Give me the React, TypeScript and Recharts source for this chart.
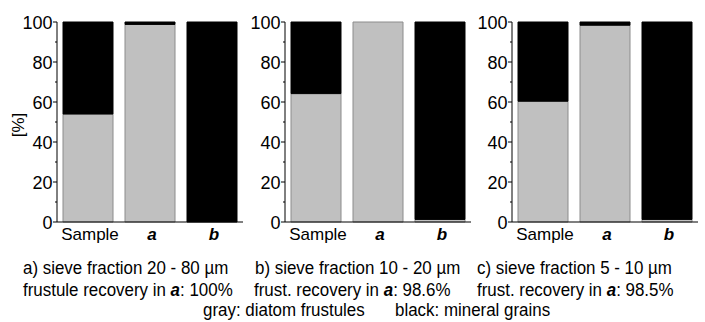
import React from 'react';
import { BarChart, Bar, XAxis, YAxis } from 'recharts';

const categories = ['Sample', 'a', 'b'];

// percent of particles per fraction (gray: diatom frustules, black: mineral grains)
const grayA = [54, 98.8, 0];
const blackA = [46, 1.2, 100];
const grayB = [64.2, 100, 1.3];
const blackB = [35.8, 0, 98.7];
const grayC = [60.4, 98.4, 1.3];
const blackC = [39.6, 1.6, 98.7];

const yTicks = [0, 10, 20, 30, 40, 50, 60, 70, 80, 90, 100];
const edgeTicks = [0, 1, 2, 3];

const fractionTitles = ['a) sieve fraction 20 - 80 µm', 'b) sieve fraction 10 - 20 µm', 'c) sieve fraction 5 - 10 µm'];
const recoveryPrefix = ['frustule recovery in ', 'frust. recovery in ', 'frust. recovery in '];
const recoveryValues = ['100%', '98.6%', '98.5%'];
const legendTexts = ['gray: diatom frustules', 'black: mineral grains'];

const FONT = '"Liberation Sans", Arial, sans-serif';
const GRAY = '#c0c0c0';

function YTick(props: any) {
  const { x, y, payload } = props;
  const major = payload.value % 20 === 0;
  return (
    <g>
      <line x1={major ? x : x + 2} x2={x + 4} y1={y} y2={y} stroke="#000" strokeWidth={1} />
      {major && (
        <text x={x - 0.5} y={y} dy={6.5} textAnchor="end" fontSize={18} fontFamily={FONT} fill="#000">
          {payload.value}
        </text>
      )}
    </g>
  );
}

function XTick(props: any) {
  const { x, y, payload } = props;
  const italic = payload.value !== 'Sample';
  return (
    <text
      x={x + 2}
      y={y}
      dy={17.5}
      textAnchor="middle"
      fontSize={17}
      fontFamily={FONT}
      fontStyle={italic ? 'italic' : 'normal'}
      fontWeight={italic ? 'bold' : 'normal'}
      fill="#000"
    >
      {payload.value}
    </text>
  );
}

function Panel({ gray, black, left }: { gray: number[]; black: number[]; left: number }) {
  const data = categories.map((c, i) => ({ name: c, gray: gray[i], black: black[i] }));
  return (
    <div style={{ position: 'absolute', left, top: 0 }}>
      <BarChart width={245} height={262} data={data} margin={{ top: 22, right: 2, left: 0, bottom: 0 }}>
        <XAxis
          xAxisId="edge"
          type="number"
          domain={[0, 3]}
          ticks={edgeTicks}
          height={0}
          axisLine={false}
          tick={false}
          tickSize={4}
          tickLine={{ stroke: '#000' }}
        />
        <XAxis
          xAxisId="cat"
          dataKey="name"
          height={40}
          tickLine={false}
          tickSize={0}
          tickMargin={0}
          interval={0}
          axisLine={{ stroke: '#000' }}
          tick={<XTick />}
        />
        <YAxis
          width={57}
          domain={[0, 100]}
          ticks={yTicks}
          interval={0}
          tickLine={false}
          tickSize={4}
          tickMargin={0}
          axisLine={{ stroke: '#000' }}
          tick={<YTick />}
        />
        <Bar xAxisId="cat" dataKey="gray" stackId="s" fill={GRAY} stroke="#8c8c8c" strokeWidth={1} barSize={50} isAnimationActive={false} />
        <Bar xAxisId="cat" dataKey="black" stackId="s" fill="#000" stroke="#000" strokeWidth={1} barSize={50} isAnimationActive={false} />
      </BarChart>
    </div>
  );
}

// condensed caption line (the source figure uses a narrow sans face)
function Caption({ x, y, children }: { x: number; y: number; children: React.ReactNode }) {
  return (
    <text x={0} y={0} transform={`translate(${x},${y}) scale(0.915,1)`}>
      {children}
    </text>
  );
}

export default function App() {
  const lineX1 = [23, 255, 477];
  const lineX2 = [23, 254, 477];
  return (
    <div style={{ position: 'absolute', left: 0, top: 0, width: 705, height: 322, background: '#fff' }}>
      <Panel gray={grayA} black={blackA} left={0} />
      <Panel gray={grayB} black={blackB} left={228} />
      <Panel gray={grayC} black={blackC} left={455} />
      <svg width={705} height={322} style={{ position: 'absolute', left: 0, top: 0, pointerEvents: 'none' }}>
        <g fontFamily={FONT} fontSize={18.5} fill="#000">
          <text x={0} y={0} fontSize={17} transform="translate(24,125) rotate(-90)" textAnchor="middle">
            [%]
          </text>
          {fractionTitles.map((t, i) => (
            <Caption key={t} x={lineX1[i]} y={274}>
              {t}
            </Caption>
          ))}
          {recoveryPrefix.map((p, i) => (
            <Caption key={i} x={lineX2[i]} y={295.5}>
              {p}
              <tspan fontWeight="bold" fontStyle="italic">a</tspan>
              {': ' + recoveryValues[i]}
            </Caption>
          ))}
          <Caption x={203} y={315.5}>{legendTexts[0]}</Caption>
          <Caption x={395} y={315.5}>{legendTexts[1]}</Caption>
        </g>
      </svg>
    </div>
  );
}
